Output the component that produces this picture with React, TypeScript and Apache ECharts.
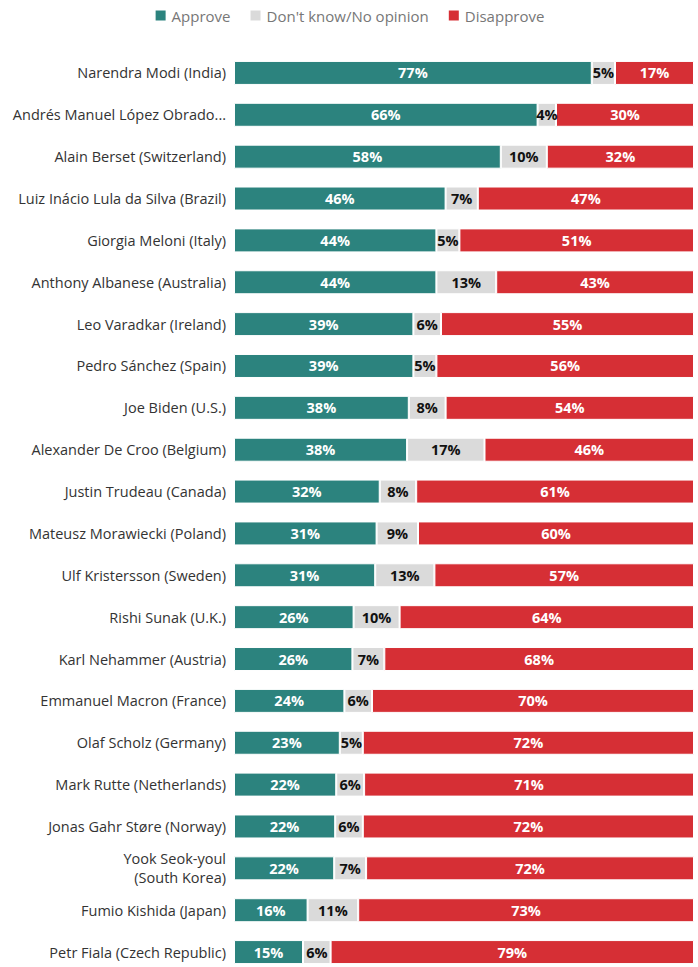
import React, { useEffect, useRef } from "react";
import * as echarts from "echarts";

const categories = [
  "Narendra Modi (India)",
  "Andrés Manuel López Obrador (Mexico)",
  "Alain Berset (Switzerland)",
  "Luiz Inácio Lula da Silva (Brazil)",
  "Giorgia Meloni (Italy)",
  "Anthony Albanese (Australia)",
  "Leo Varadkar (Ireland)",
  "Pedro Sánchez (Spain)",
  "Joe Biden (U.S.)",
  "Alexander De Croo (Belgium)",
  "Justin Trudeau (Canada)",
  "Mateusz Morawiecki (Poland)",
  "Ulf Kristersson (Sweden)",
  "Rishi Sunak (U.K.)",
  "Karl Nehammer (Austria)",
  "Emmanuel Macron (France)",
  "Olaf Scholz (Germany)",
  "Mark Rutte (Netherlands)",
  "Jonas Gahr Støre (Norway)",
  "Yook Seok-youl\n(South Korea)",
  "Fumio Kishida (Japan)",
  "Petr Fiala (Czech Republic)",
];

const approve = [77, 66, 58, 46, 44, 44, 39, 39, 38, 38, 32, 31, 31, 26, 26, 24, 23, 22, 22, 22, 16, 15];
const dontKnow = [5, 4, 10, 7, 5, 13, 6, 5, 8, 17, 8, 9, 13, 10, 7, 6, 5, 6, 6, 7, 11, 6];
const disapprove = [17, 30, 32, 47, 51, 43, 55, 56, 54, 46, 61, 60, 57, 64, 68, 70, 72, 71, 72, 72, 73, 79];

const seriesNames = ["Approve", "Don't know/No opinion", "Disapprove"];
const colors = ["#2C837E", "#DADADA", "#D62F35"];
const labelColors = ["#ffffff", "#111111", "#ffffff"];

export default function App() {
  const ref = useRef<HTMLDivElement>(null);
  useEffect(() => {
    document.body.style.margin = "0";
    document.body.style.overflow = "hidden";
    const chart = echarts.init(ref.current!, undefined, { renderer: "svg" });
    const sets = [approve, dontKnow, disapprove];
    const totals = categories.map((_, i) => approve[i] + dontKnow[i] + disapprove[i]);
    const font = "'Open Sans', Lato, sans-serif";
    chart.setOption({
      animation: false,
      textStyle: { fontFamily: font },
      legend: {
        top: 3,
        left: "center",
        icon: "rect",
        itemWidth: 12,
        itemHeight: 12,
        itemGap: 18,
        textStyle: { color: "#777", fontSize: 15, fontFamily: font },
        data: seriesNames,
      },
      grid: { left: 234, right: 4, top: 52, height: 921 },
      xAxis: { type: "value", min: 0, max: 100, show: false },
      yAxis: {
        type: "category",
        inverse: true,
        data: categories,
        axisLine: { show: false },
        axisTick: { show: false },
        axisLabel: {
          color: "#333",
          fontSize: 14.5,
          fontFamily: font,
          margin: 8,
          width: 220,
          overflow: "truncate",
          ellipsis: "...",
          lineHeight: 19,
        },
      },
      series: sets.map((arr, s) => ({
        name: seriesNames[s],
        type: "bar",
        stack: "total",
        barWidth: 24,
        itemStyle: { color: colors[s], borderColor: "#fff", borderWidth: 1 },
        label: {
          show: true,
          position: "inside",
          color: labelColors[s],
          fontSize: 14.5,
          fontWeight: "bold",
          fontFamily: font,
          formatter: (p: any) => `${p.data.raw}%`,
        },
        data: arr.map((v, i) => ({ value: (v / totals[i]) * 100, raw: v })),
      })),
    });
    return () => chart.dispose();
  }, []);
  return <div ref={ref} style={{ position: "absolute", left: 0, top: 0, width: 698, height: 975 }} />;
}
